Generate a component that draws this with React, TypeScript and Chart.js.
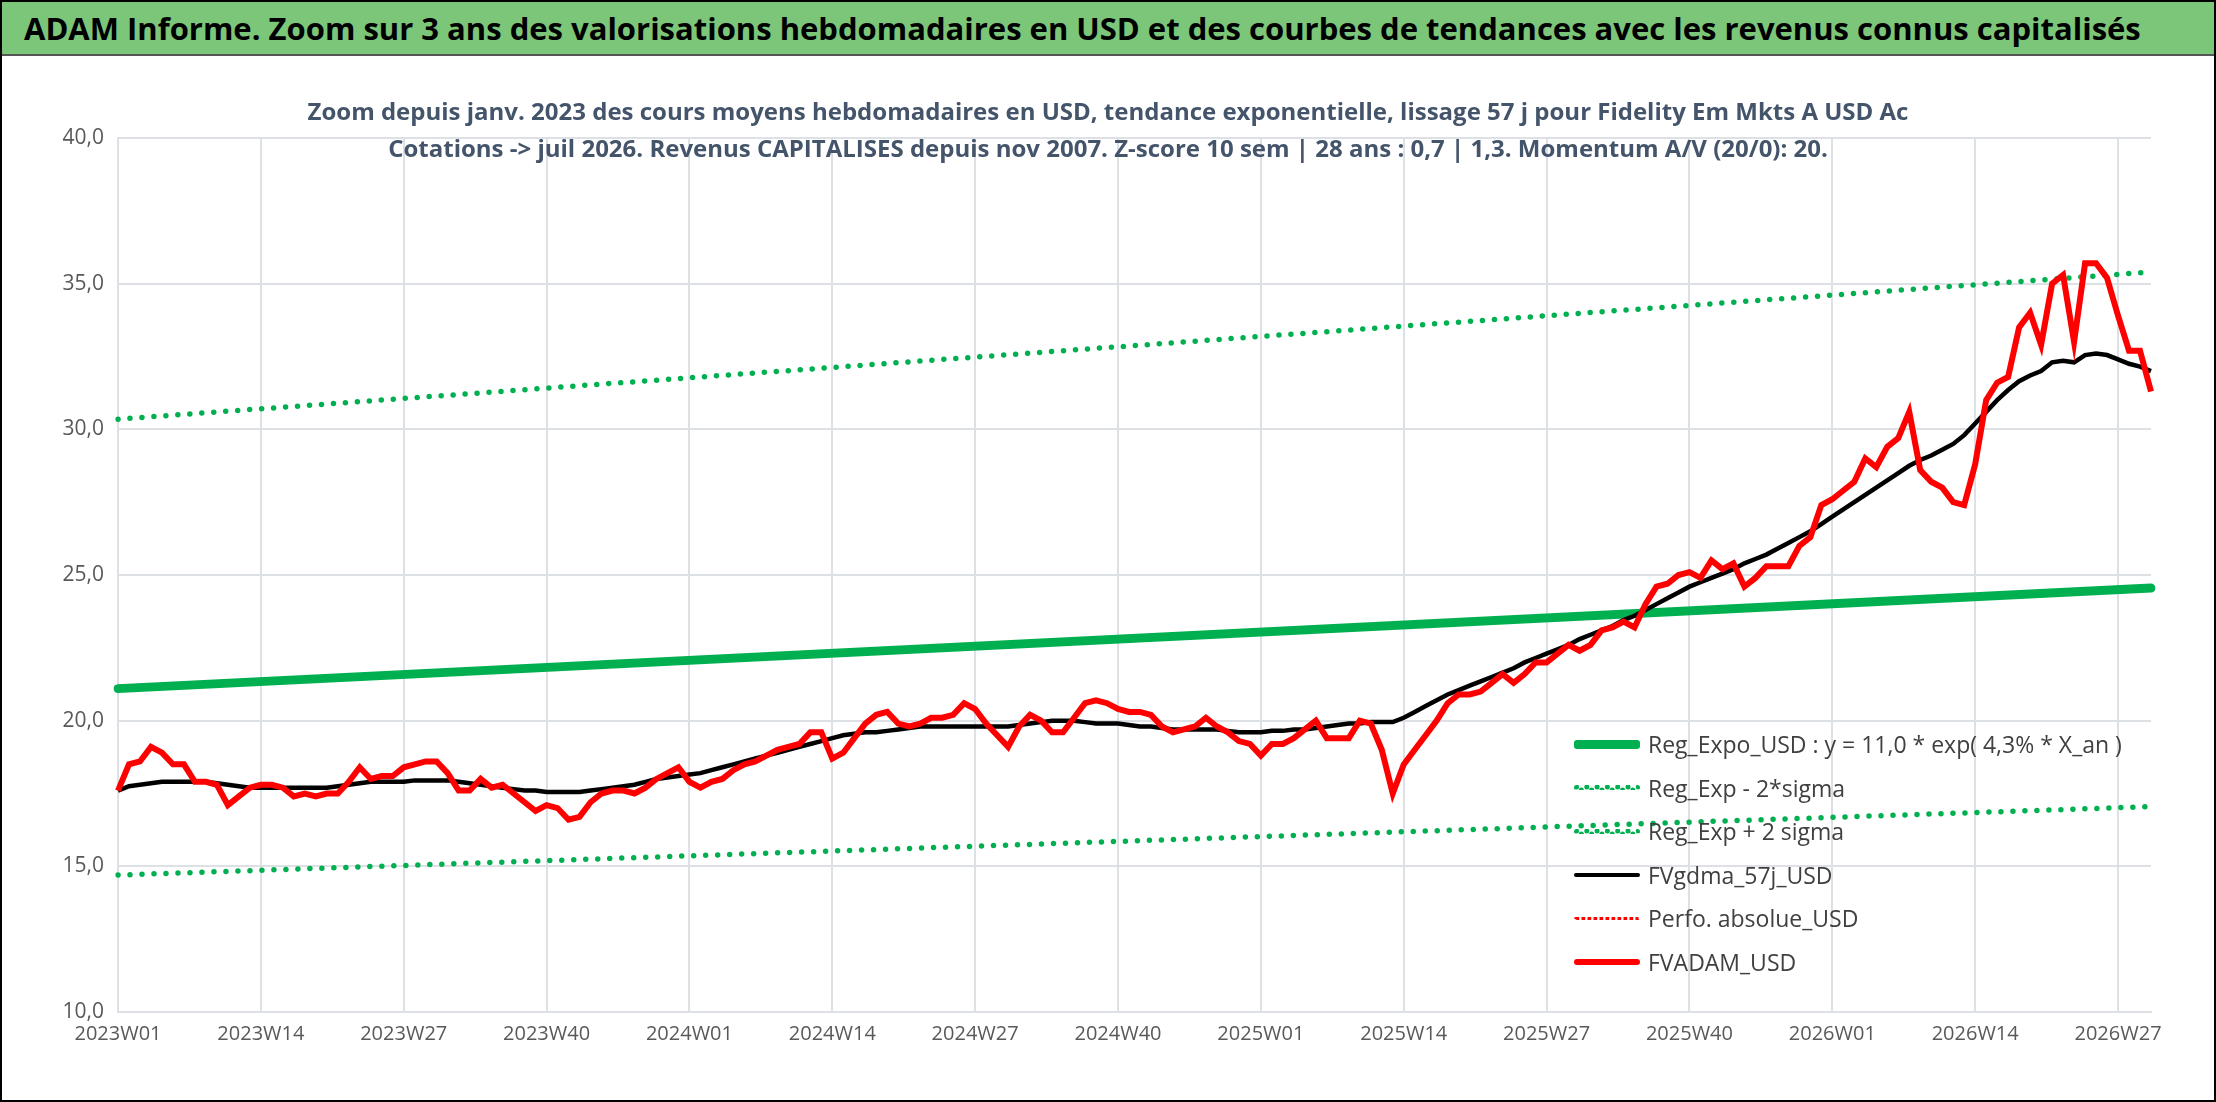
import React, { useEffect, useRef } from "react";
import Chart from "chart.js/auto";

// ISO weeks 2023W01 .. 2026W30
const weeks: string[] = [];
[2023, 2024, 2025, 2026].forEach((yr) => {
  const n = yr === 2026 ? 30 : 52;
  for (let w = 1; w <= n; w++) weeks.push(`${yr}W${String(w).padStart(2, "0")}`);
});

const fvadam = [
  17.6, 18.5, 18.6, 19.1, 18.9, 18.5, 18.5, 17.9, 17.9, 17.8, 17.1, 17.4, 17.7,
  17.8, 17.8, 17.7, 17.4, 17.5, 17.4, 17.5, 17.5, 17.9, 18.4, 18.0, 18.1, 18.1,
  18.4, 18.5, 18.6, 18.6, 18.2, 17.6, 17.6, 18.0, 17.7, 17.8, 17.5, 17.2, 16.9,
  17.1, 17.0, 16.6, 16.7, 17.2, 17.5, 17.6, 17.6, 17.5, 17.7, 18.0, 18.2, 18.4,
  17.9, 17.7, 17.9, 18.0, 18.3, 18.5, 18.6, 18.8, 19.0, 19.1, 19.2, 19.6, 19.6,
  18.7, 18.9, 19.4, 19.9, 20.2, 20.3, 19.9, 19.8, 19.9, 20.1, 20.1, 20.2, 20.6,
  20.4, 19.9, 19.5, 19.1, 19.8, 20.2, 20.0, 19.6, 19.6, 20.1, 20.6, 20.7, 20.6,
  20.4, 20.3, 20.3, 20.2, 19.8, 19.6, 19.7, 19.8, 20.1, 19.8, 19.6, 19.3, 19.2,
  18.8, 19.2, 19.2, 19.4, 19.7, 20.0, 19.4, 19.4, 19.4, 20.0, 19.9, 19.0, 17.5,
  18.5, 19.0, 19.5, 20.0, 20.6, 20.9, 20.9, 21.0, 21.3, 21.6, 21.3, 21.6, 22.0,
  22.0, 22.3, 22.6, 22.4, 22.6, 23.1, 23.2, 23.4, 23.2, 24.0, 24.6, 24.7, 25.0,
  25.1, 24.9, 25.5, 25.2, 25.4, 24.6, 24.9, 25.3, 25.3, 25.3, 26.0, 26.3, 27.4,
  27.6, 27.9, 28.2, 29.0, 28.7, 29.4, 29.7, 30.6, 28.6, 28.2, 28.0, 27.5, 27.4,
  28.8, 31.0, 31.6, 31.8, 33.5, 34.0, 32.9, 35.0, 35.3, 33.0, 35.7, 35.7, 35.2,
  33.9, 32.7, 32.7, 31.3,
];

const fvgdma = [
  17.6, 17.75, 17.8, 17.85, 17.9, 17.9, 17.9, 17.9, 17.9, 17.85, 17.8, 17.75, 17.7,
  17.7, 17.7, 17.7, 17.7, 17.7, 17.7, 17.7, 17.75, 17.8, 17.85, 17.9, 17.9, 17.9,
  17.9, 17.95, 17.95, 17.95, 17.95, 17.9, 17.85, 17.8, 17.75, 17.7, 17.65, 17.6, 17.6,
  17.55, 17.55, 17.55, 17.55, 17.6, 17.65, 17.7, 17.75, 17.8, 17.9, 18.0, 18.05, 18.1,
  18.15, 18.2, 18.3, 18.4, 18.5, 18.6, 18.7, 18.8, 18.9, 19.0, 19.1, 19.2, 19.3,
  19.4, 19.5, 19.55, 19.6, 19.6, 19.65, 19.7, 19.75, 19.8, 19.8, 19.8, 19.8, 19.8,
  19.8, 19.8, 19.8, 19.8, 19.85, 19.9, 19.95, 20.0, 20.0, 20.0, 19.95, 19.9, 19.9,
  19.9, 19.85, 19.8, 19.8, 19.75, 19.7, 19.7, 19.7, 19.7, 19.7, 19.65, 19.6, 19.6,
  19.6, 19.65, 19.65, 19.7, 19.7, 19.75, 19.8, 19.85, 19.9, 19.9, 19.95, 19.95, 19.95,
  20.1, 20.3, 20.5, 20.7, 20.9, 21.05, 21.2, 21.35, 21.5, 21.65, 21.8, 22.0, 22.15,
  22.3, 22.45, 22.6, 22.8, 22.95, 23.1, 23.25, 23.45, 23.6, 23.8, 24.0, 24.2, 24.4,
  24.6, 24.75, 24.9, 25.05, 25.2, 25.4, 25.55, 25.7, 25.9, 26.1, 26.3, 26.5, 26.75,
  27.0, 27.25, 27.5, 27.75, 28.0, 28.25, 28.5, 28.75, 28.95, 29.1, 29.3, 29.5, 29.8,
  30.2, 30.6, 31.0, 31.35, 31.65, 31.85, 32.0, 32.3, 32.35, 32.3, 32.55, 32.6, 32.55,
  32.4, 32.25, 32.15, 32.0,
];

// trend lines: value at first and last week
const regExpo = [21.1, 24.55];
const regMinus = [14.7, 17.05];
const regPlus = [30.35, 35.4];

const GREEN = "#00B050";
const FONT = "'Open Sans', sans-serif";

const ends = (v: number[]) => [
  { x: weeks[0], y: v[0] },
  { x: weeks[weeks.length - 1], y: v[1] },
];

const legendItems = [
  { label: "Reg_Expo_USD : y = 11,0 * exp( 4,3% *  X_an )", color: GREEN, style: "solid", w: 9 },
  { label: "Reg_Exp - 2*sigma", color: GREEN, style: "dotted", w: 5 },
  { label: "Reg_Exp + 2 sigma", color: GREEN, style: "dotted", w: 5 },
  { label: "FVgdma_57j_USD", color: "#000", style: "solid", w: 4 },
  { label: "Perfo. absolue_USD", color: "#FF0000", style: "dotted", w: 3 },
  { label: "FVADAM_USD", color: "#FF0000", style: "solid", w: 6 },
];

export default function App() {
  const ref = useRef<HTMLCanvasElement>(null);

  useEffect(() => {
    document.body.style.margin = "0";
    if (!ref.current) return;
    const chart = new Chart(ref.current, {
      type: "line",
      data: {
        labels: weeks,
        datasets: [
          { label: "FVADAM_USD", data: fvadam, borderColor: "#FF0000", borderWidth: 6, pointRadius: 0, tension: 0 },
          { label: "FVgdma_57j_USD", data: fvgdma, borderColor: "#000", borderWidth: 4.5, pointRadius: 0 },
          { label: "Reg_Expo_USD", data: ends(regExpo) as any, borderColor: GREEN, borderWidth: 9, pointRadius: 0, borderCapStyle: "round" },
          { label: "Reg_Exp - 2*sigma", data: ends(regMinus) as any, borderColor: GREEN, borderWidth: 5.5, pointRadius: 0, borderDash: [0, 12], borderCapStyle: "round" },
          { label: "Reg_Exp + 2 sigma", data: ends(regPlus) as any, borderColor: GREEN, borderWidth: 5.5, pointRadius: 0, borderDash: [0, 12], borderCapStyle: "round" },
        ],
      },
      options: {
        animation: false,
        responsive: false,
        layout: { padding: { top: 82, right: 63, bottom: 50, left: 0 } },
        plugins: { legend: { display: false }, tooltip: { enabled: false } },
        scales: {
          x: {
            afterFit: (s: any) => { s.height = 40; },
            grid: { color: "#DDE1E6", lineWidth: 2, drawTicks: false },
            border: { color: "#DDE1E6", width: 2 },
            ticks: {
              autoSkip: false,
              maxRotation: 0,
              padding: 10,
              color: "#595959",
              font: { family: FONT, size: 20 },
              callback: (_v: any, i: number) => (i % 13 === 0 ? weeks[i] : null),
            },
          },
          y: {
            min: 10,
            max: 40,
            afterFit: (s: any) => { s.width = 116; },
            grid: { color: "#DDE1E6", lineWidth: 2, drawTicks: false },
            border: { color: "#DDE1E6", width: 2 },
            ticks: {
              stepSize: 5,
              padding: 14,
              color: "#595959",
              font: { family: FONT, size: 21 },
              callback: (v: any) => Number(v).toFixed(1).replace(".", ","),
            },
          },
        },
      },
    });
    return () => chart.destroy();
  }, []);

  return (
    <div style={{ position: "fixed", left: 0, top: 0, width: 2216, height: 1102, background: "#fff", fontFamily: FONT, boxSizing: "border-box", border: "2px solid #000" }}>
      <div style={{ height: 52, background: "#7CC67A", borderBottom: "2px solid #555", display: "flex", alignItems: "center", paddingLeft: 22, fontSize: 31, fontWeight: "bold", color: "#000" }}>
        ADAM Informe. Zoom sur 3 ans des valorisations hebdomadaires en USD et des courbes de tendances avec les revenus connus capitalisés
      </div>
      <canvas ref={ref} width={2212} height={1046} style={{ position: "absolute", left: 0, top: 54 }} />
      <div style={{ position: "absolute", left: 0, width: 2212, top: 90, textAlign: "center", color: "#44546A", fontWeight: "bold", fontSize: 24, lineHeight: "37px" }}>
        Zoom depuis janv. 2023 des cours moyens hebdomadaires en USD, tendance exponentielle, lissage 57 j pour Fidelity Em Mkts A USD Ac
        <br />
        Cotations -&gt; juil 2026. Revenus CAPITALISES depuis nov 2007. Z-score 10 sem | 28 ans : 0,7 | 1,3. Momentum A/V (20/0): 20.
      </div>
      {legendItems.map((it, i) => (
        <div key={i} style={{ position: "absolute", left: 1572, top: 727 + i * 43.5, height: 30, display: "flex", alignItems: "center", fontSize: 23, color: "#404040" }}>
          <div style={{ width: 66, marginRight: 8, borderTop: `${it.w}px ${it.style} ${it.color}`, borderRadius: 3 }} />
          {it.label}
        </div>
      ))}
    </div>
  );
}
